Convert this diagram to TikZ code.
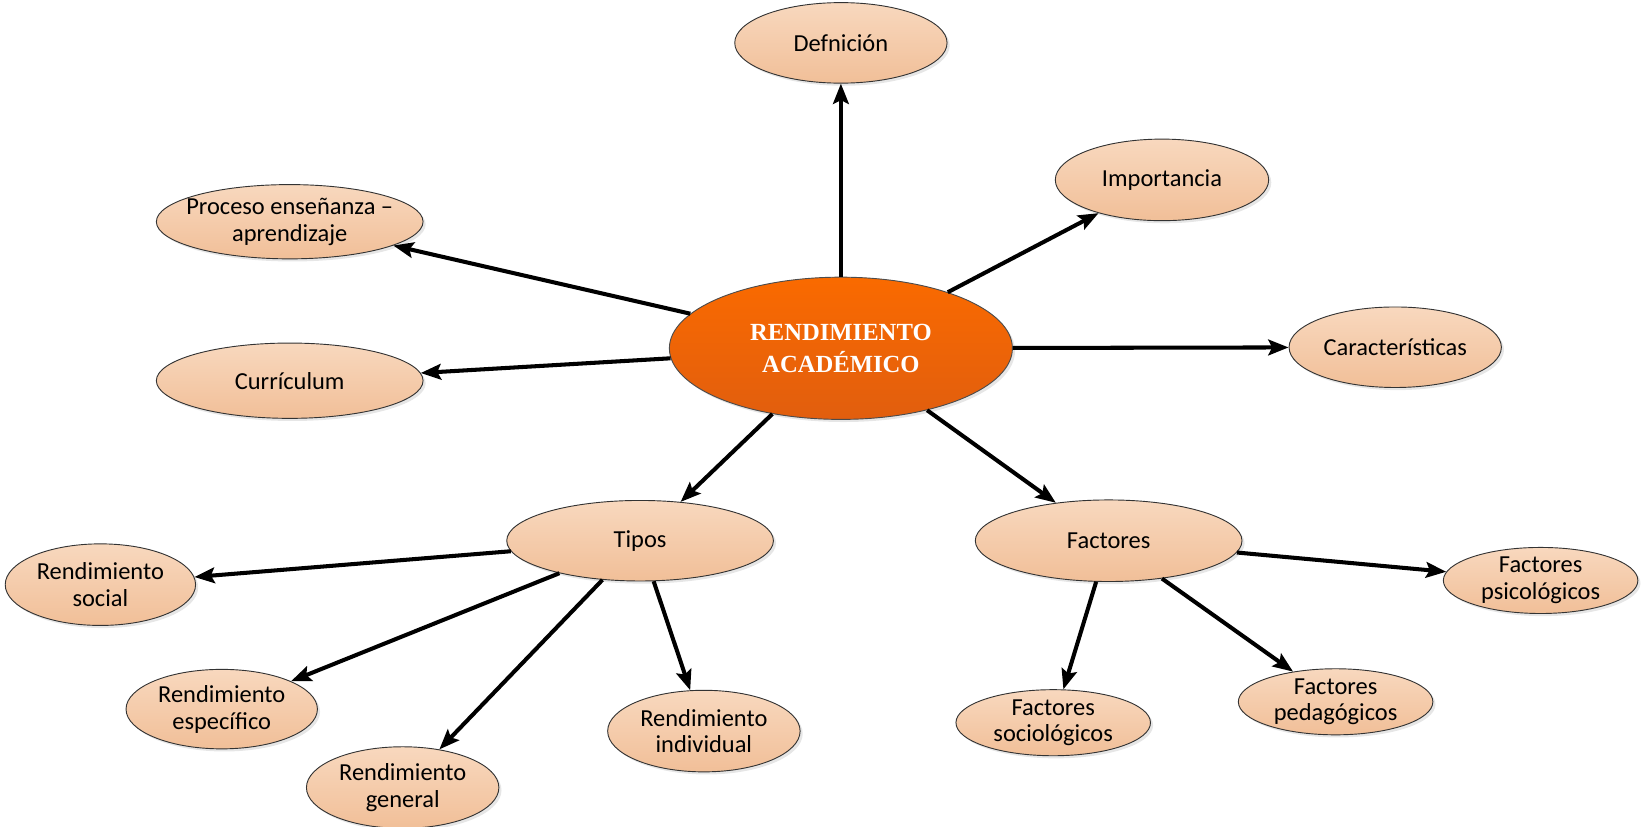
\documentclass[tikz,border=0pt]{standalone}
\usepackage{fontspec}
\setmainfont{Carlito}
\newfontfamily\titlefont{Liberation Serif}
\usetikzlibrary{arrows.meta}
\usetikzlibrary{shapes.geometric}
\usetikzlibrary{shadows}
\definecolor{peachtop}{HTML}{F8D8BE}
\definecolor{peachbot}{HTML}{F1BF98}
\definecolor{orangetop}{HTML}{FA6A00}
\definecolor{orangebot}{HTML}{E15E0E}

\begin{document}
\begin{tikzpicture}[
    topic/.style={ellipse, draw=black!80, line width=0.5pt, inner sep=0pt,
        top color=peachtop, bottom color=peachbot, align=center,
        font=\fontsize{13.3}{14.6}\selectfont,
        drop shadow={opacity=0.2, shadow xshift=0.05cm, shadow yshift=-0.05cm}},
    link/.style={-{Stealth[length=11pt, width=8.5pt, inset=2pt]}, line width=2.2pt}
  ]
    \useasboundingbox (0,0.73) rectangle (31.38,16.54);

    % Central topic
    \node[ellipse, draw=black!70, line width=0.5pt, inner sep=0pt,
        top color=orangetop, bottom color=orangebot, text=white, align=center,
        minimum width=6.56cm, minimum height=2.72cm,
        font=\titlefont\bfseries\fontsize{13.4}{17.4}\selectfont,
        drop shadow={opacity=0.2, shadow xshift=0.05cm, shadow yshift=-0.05cm}]
        (ra) at (16.08,9.88) {RENDIMIENTO\\ACADÉMICO};

    % First ring
    \node[topic, minimum width=4.06cm, minimum height=1.54cm] (def) at (16.08,15.72) {Defnición};
    \node[topic, minimum width=4.08cm, minimum height=1.56cm] (imp) at (22.22,13.1) {Importancia};
    \node[topic, minimum width=4.06cm, minimum height=1.54cm] (car) at (26.68,9.9) {Características};
    \node[topic, inner xsep=-0.22cm, minimum width=5.1cm, minimum height=1.42cm] (pea) at (5.54,12.3) {Proceso enseñanza –\\aprendizaje};
    \node[topic, minimum width=5.1cm, minimum height=1.44cm] (cur) at (5.54,9.26) {Currículum};
    \node[topic, minimum width=5.1cm, minimum height=1.54cm] (tip) at (12.24,6.2) {Tipos};
    \node[topic, minimum width=5.1cm, minimum height=1.56cm] (fac) at (21.2,6.2) {Factores};

    % Kinds of achievement
    \node[topic, minimum width=3.64cm, minimum height=1.56cm] (soc) at (1.92,5.36) {Rendimiento\\social};
    \node[topic, minimum width=3.66cm, minimum height=1.52cm] (esp) at (4.24,2.98) {Rendimiento\\específico};
    \node[topic, minimum width=3.68cm, minimum height=1.56cm] (gen) at (7.7,1.48) {Rendimiento\\general};
    \node[topic, minimum width=3.68cm, minimum height=1.56cm] (ind) at (13.46,2.56) {Rendimiento\\individual};

    % Factors
    \node[topic, minimum width=3.72cm, minimum height=1.16cm] (fso) at (20.14,2.72) {Factores\\sociológicos};
    \node[topic, minimum width=3.72cm, minimum height=1.2cm] (fpe) at (25.54,3.12) {Factores\\pedagógicos};
    \node[topic, minimum width=3.72cm, minimum height=1.2cm] (fps) at (29.46,5.44) {Factores\\psicológicos};

    % Arrows from the central topic
    \draw[link] (ra) -- (def);
    \draw[link] (ra) -- (imp);
    \draw[link] (ra) -- (car);
    \draw[link] (ra) -- (pea);
    \draw[link] (ra) -- (cur);
    \draw[link] (ra) -- (tip);
    \draw[link] (ra) -- (fac);

    % Arrows from Tipos
    \draw[link] (tip) -- (soc);
    \draw[link] (tip) -- (esp);
    \draw[link] (tip) -- (gen);
    \draw[link] (tip) -- (ind);

    % Arrows from Factores
    \draw[link] (fac) -- (fso);
    \draw[link] (fac) -- (fpe);
    \draw[link] (fac) -- (fps);
\end{tikzpicture}
\end{document}
